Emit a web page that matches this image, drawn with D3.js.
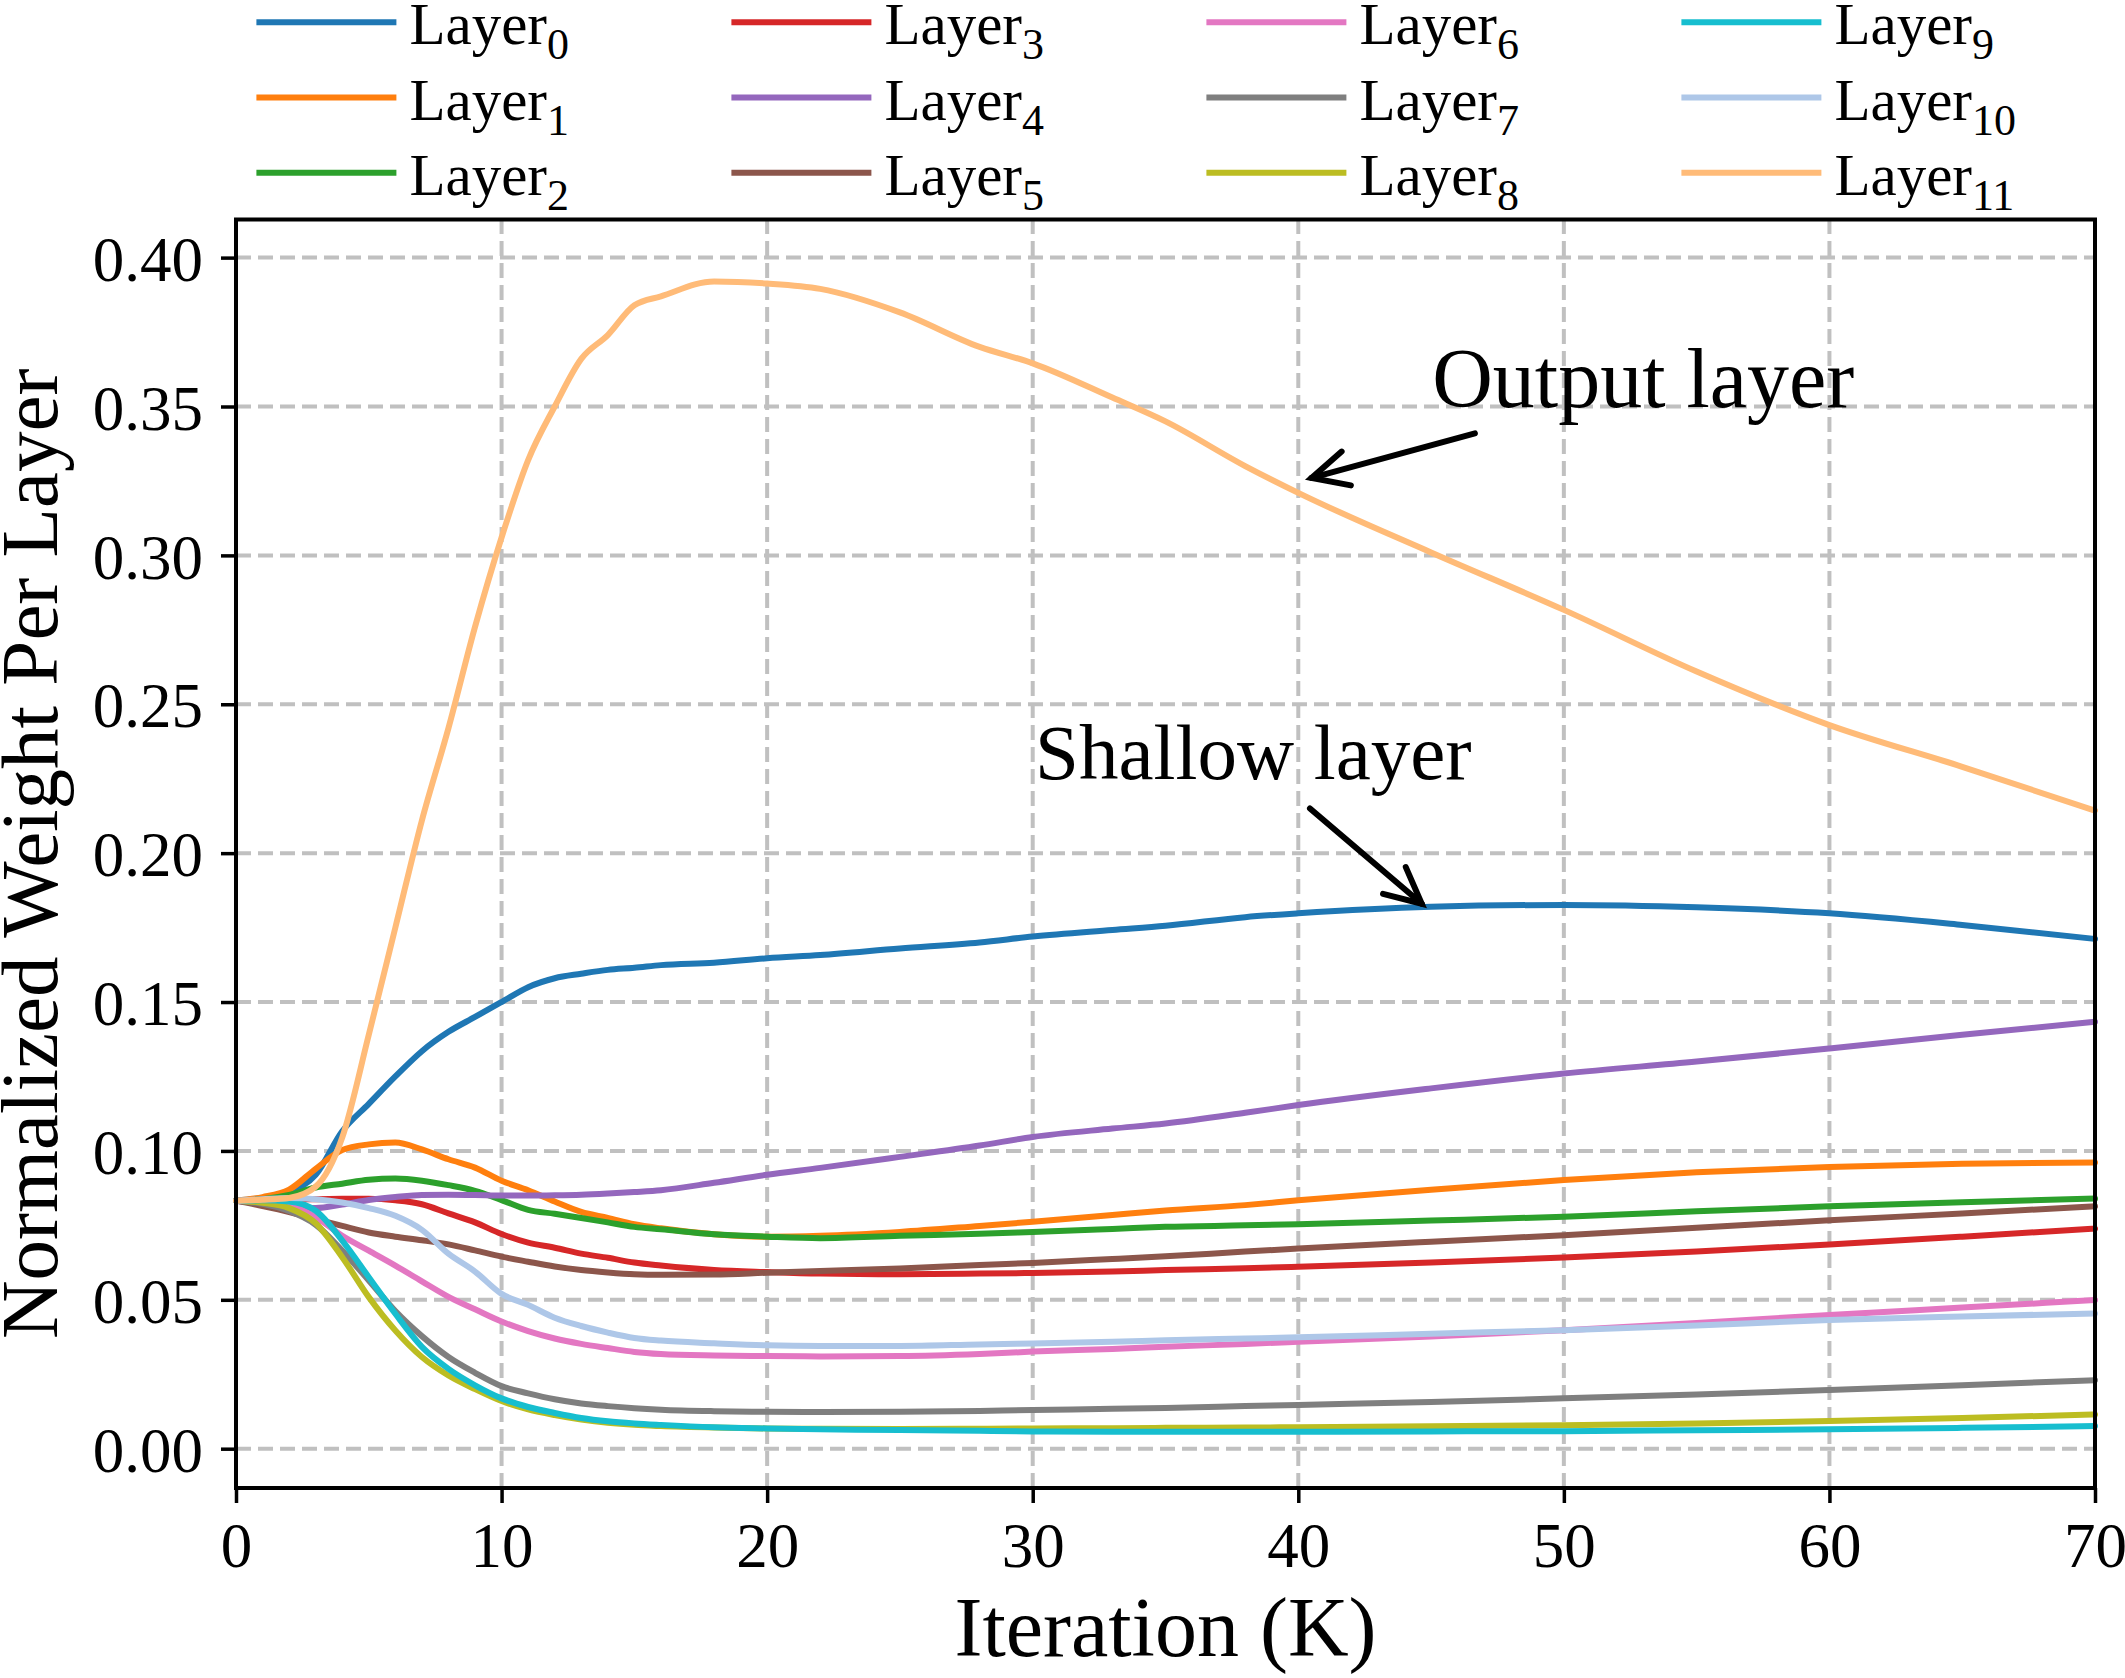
<!DOCTYPE html>
<meta charset="utf-8">
<body style="margin:0;background:#fff">
<div id="chart"></div>
<script src="https://d3js.org/d3.v7.min.js"></script>
<script>

var iterations = [0,1,2,3,4,5,6,7,8,9,10,11,12,13,14,15,16,18,20,22,25,28,30,33,35,38,40,45,50,55,60,65,70];

var layer0  = [0.0833,0.0842,0.0862,0.0920,0.1066,0.1158,0.1250,0.1335,0.1400,0.1450,0.1500,0.1550,0.1580,0.1595,0.1608,0.1615,0.1624,0.1632,0.1647,0.1658,0.1680,0.1700,0.1720,0.1742,0.1756,0.1785,0.1798,0.1820,0.1826,0.1818,0.1798,0.1759,0.1712];
var layer1  = [0.0833,0.0845,0.0870,0.0940,0.1003,0.1022,0.1028,0.1005,0.0972,0.0944,0.0900,0.0868,0.0830,0.0795,0.0775,0.0754,0.0740,0.0720,0.0712,0.0715,0.0728,0.0748,0.0762,0.0785,0.0800,0.0818,0.0834,0.0870,0.0902,0.0928,0.0946,0.0957,0.0961];
var layer2  = [0.0833,0.0838,0.0852,0.0877,0.0890,0.0903,0.0907,0.0900,0.0885,0.0866,0.0835,0.0802,0.0789,0.0775,0.0760,0.0745,0.0737,0.0720,0.0712,0.0707,0.0715,0.0722,0.0728,0.0738,0.0745,0.0750,0.0754,0.0766,0.0779,0.0797,0.0814,0.0828,0.0840];
var layer3  = [0.0833,0.0836,0.0838,0.0838,0.0839,0.0839,0.0834,0.0821,0.0790,0.0760,0.0721,0.0692,0.0675,0.0655,0.0641,0.0625,0.0615,0.0600,0.0593,0.0588,0.0586,0.0588,0.0590,0.0595,0.0600,0.0606,0.0611,0.0625,0.0642,0.0662,0.0686,0.0712,0.0739];
var layer4  = [0.0833,0.0822,0.0812,0.0808,0.0820,0.0835,0.0845,0.0852,0.0853,0.0852,0.0850,0.0850,0.0851,0.0853,0.0857,0.0862,0.0868,0.0893,0.0920,0.0943,0.0980,0.1018,0.1047,0.1075,0.1092,0.1128,0.1154,0.1210,0.1260,0.1300,0.1344,0.1390,0.1434];
var layer5  = [0.0833,0.0815,0.0795,0.0771,0.0748,0.0726,0.0712,0.0700,0.0686,0.0666,0.0645,0.0628,0.0612,0.0600,0.0592,0.0586,0.0584,0.0585,0.0591,0.0597,0.0605,0.0617,0.0624,0.0637,0.0646,0.0662,0.0672,0.0695,0.0717,0.0742,0.0767,0.0790,0.0814];
var layer6  = [0.0833,0.0831,0.0818,0.0778,0.0715,0.0665,0.0615,0.0562,0.0510,0.0468,0.0427,0.0395,0.0370,0.0352,0.0338,0.0325,0.0318,0.0313,0.0311,0.0310,0.0311,0.0318,0.0326,0.0335,0.0342,0.0352,0.0359,0.0377,0.0398,0.0422,0.0449,0.0474,0.0499];
var layer7  = [0.0833,0.0822,0.0798,0.0752,0.0665,0.0565,0.0462,0.0378,0.0308,0.0255,0.0210,0.0186,0.0166,0.0152,0.0143,0.0136,0.0131,0.0126,0.0124,0.0123,0.0124,0.0127,0.0130,0.0134,0.0137,0.0143,0.0147,0.0157,0.0169,0.0182,0.0197,0.0213,0.0230];
var layer8  = [0.0833,0.0826,0.0808,0.0757,0.0643,0.0509,0.0397,0.0308,0.0246,0.0200,0.0160,0.0132,0.0113,0.0098,0.0087,0.0080,0.0076,0.0071,0.0068,0.0067,0.0066,0.0067,0.0068,0.0069,0.0070,0.0071,0.0072,0.0075,0.0079,0.0085,0.0093,0.0103,0.0115];
var layer9  = [0.0833,0.0834,0.0830,0.0799,0.0699,0.0576,0.0453,0.0342,0.0268,0.0213,0.0169,0.0140,0.0120,0.0103,0.0092,0.0085,0.0080,0.0072,0.0068,0.0065,0.0063,0.0060,0.0058,0.0057,0.0057,0.0057,0.0057,0.0058,0.0059,0.0062,0.0065,0.0070,0.0076];
var layer10 = [0.0833,0.0838,0.0842,0.0838,0.0827,0.0808,0.0782,0.0735,0.0655,0.0595,0.0520,0.0483,0.0440,0.0412,0.0390,0.0372,0.0363,0.0354,0.0347,0.0345,0.0345,0.0350,0.0353,0.0359,0.0364,0.0370,0.0374,0.0386,0.0398,0.0414,0.0432,0.0444,0.0454];
var layer11 = [0.0833,0.0836,0.0842,0.0880,0.1045,0.1390,0.1750,0.2110,0.2420,0.2760,0.3060,0.3320,0.3500,0.3660,0.3740,0.3840,0.3870,0.3920,0.3913,0.3895,0.3816,0.3700,0.3645,0.3530,0.3450,0.3300,0.3210,0.3010,0.2817,0.2610,0.2430,0.2290,0.2143];

var series = [layer0, layer1, layer2, layer3, layer4, layer5, layer6, layer7, layer8, layer9, layer10, layer11];
var colors = ["#1f77b4","#ff7f0e","#2ca02c","#d62728","#9467bd","#8c564b","#e377c2","#7f7f7f","#bcbd22","#17becf","#aec7e8","#ffbb78"];

var xTicks = [0,10,20,30,40,50,60,70];
var yTicks = [0,0.05,0.10,0.15,0.20,0.25,0.30,0.35,0.40];

// annotation: text spot, arrow tail -> arrow tip (data units)
var notes = [
    {text: "Output layer", tx: 45.04, ty: 0.3498, x0: 46.65, y0: 0.341, x1: 40.5, y1: 0.326, size: 84},
    {text: "Shallow layer", tx: 30.09, ty: 0.2249, x0: 40.44, y0: 0.215, x1: 44.65, y1: 0.183, size: 79}
];

var w = 2125, h = 1678;
var pLeft = 236, pRight = 2095, pTop = 219.5, pBottom = 1488;
var font = "'Liberation Serif', 'Times New Roman', serif";

var svg = d3.select("#chart")
    .append("svg")
    .attr("width", w)
    .attr("height", h)
    .style("display", "block");

svg.append("rect")
    .attr("width", w)
    .attr("height", h)
    .attr("fill", "#fff");

var x = d3.scaleLinear().domain([0, 70]).range([pLeft, pRight]);
var y = d3.scaleLinear().domain([-0.0132, 0.4128]).range([pBottom, pTop]);

// grid
var grid = svg.append("g")
    .attr("stroke", "#c0c0c0")
    .attr("stroke-width", 4)
    .attr("stroke-dasharray", "15,7");

grid.selectAll(".gx")
    .data(xTicks.slice(1, -1))
    .enter()
    .append("line")
    .attr("x1", function(d) {return x(d);})
    .attr("x2", function(d) {return x(d);})
    .attr("y1", pBottom)
    .attr("y2", pTop);

grid.selectAll(".gy")
    .data(yTicks)
    .enter()
    .append("line")
    .attr("x1", pLeft)
    .attr("x2", pRight)
    .attr("y1", function(d) {return y(d);})
    .attr("y2", function(d) {return y(d);});

// the layers
var line = d3.line()
    .x(function(d, i) {return x(iterations[i]);})
    .y(function(d) {return y(d);})
    .curve(d3.curveMonotoneX);

svg.append("g")
    .selectAll("path")
    .data(series)
    .enter()
    .append("path")
    .attr("d", line)
    .attr("fill", "none")
    .attr("stroke", function(d, i) {return colors[i];})
    .attr("stroke-width", 6)
    .attr("stroke-linejoin", "round")
    .attr("stroke-linecap", "round");

// axes
var xAxis = svg.append("g")
    .attr("transform", "translate(0," + pBottom + ")")
    .call(d3.axisBottom(x).tickValues(xTicks).tickSize(15).tickPadding(19).tickFormat(d3.format("d")));

var yAxis = svg.append("g")
    .attr("transform", "translate(" + pLeft + ",0)")
    .call(d3.axisLeft(y).tickValues(yTicks).tickSize(15).tickPadding(18).tickFormat(d3.format(".2f")));

[xAxis, yAxis].forEach(function(a) {
    a.select(".domain").remove();
    a.selectAll(".tick line").attr("stroke", "#000").attr("stroke-width", 3.5);
    a.selectAll(".tick text")
        .attr("fill", "#000")
        .style("font-family", font)
        .style("font-size", "63px");
});
yAxis.selectAll(".tick text").attr("dy", "0.36em");

svg.append("rect")
    .attr("x", pLeft)
    .attr("y", pTop)
    .attr("width", pRight - pLeft)
    .attr("height", pBottom - pTop)
    .attr("fill", "none")
    .attr("stroke", "#000")
    .attr("stroke-width", 4);

svg.append("text")
    .text("Iteration (K)")
    .attr("x", (pLeft + pRight) / 2)
    .attr("y", 1656)
    .attr("text-anchor", "middle")
    .style("font-family", font)
    .style("font-size", "84px");

svg.append("text")
    .text("Normalized Weight Per Layer")
    .attr("transform", "translate(57," + (pTop + pBottom) / 2 + ") rotate(-90)")
    .attr("text-anchor", "middle")
    .style("font-family", font)
    .style("font-size", "81px");

// legend, 4 columns x 3 rows
var legend = svg.append("g")
    .selectAll("g")
    .data(series)
    .enter()
    .append("g")
    .attr("transform", function(d, i) {
        return "translate(" + (256.4 + Math.floor(i / 3) * 475) + "," + (22.3 + (i % 3) * 75.2) + ")";
    });

legend.append("line")
    .attr("x1", 0)
    .attr("x2", 140)
    .attr("stroke", function(d, i) {return colors[i];})
    .attr("stroke-width", 6);

var lt = legend.append("text")
    .attr("x", 153)
    .attr("y", 22)
    .style("font-family", font)
    .style("font-size", "59px")
    .text("Layer");
lt.append("tspan")
    .attr("dy", 15)
    .style("font-size", "44px")
    .text(function(d, i) {return i;});

// annotations
notes.forEach(function(n) {
    svg.append("text")
        .text(n.text)
        .attr("x", x(n.tx))
        .attr("y", y(n.ty))
        .style("font-family", font)
        .style("font-size", n.size + "px");

    var tx = x(n.x1), ty = y(n.y1);
    var ang = Math.atan2(y(n.y0) - ty, x(n.x0) - tx);
    var a1 = ang + 26 * Math.PI / 180, a2 = ang - 26 * Math.PI / 180;
    svg.append("path")
        .attr("d", "M" + x(n.x0) + "," + y(n.y0) + "L" + tx + "," + ty)
        .attr("stroke", "#000")
        .attr("stroke-width", 6)
        .attr("stroke-linecap", "round");
    svg.append("path")
        .attr("d", "M" + (tx + 40 * Math.cos(a1)) + "," + (ty + 40 * Math.sin(a1)) +
            "L" + tx + "," + ty +
            "L" + (tx + 40 * Math.cos(a2)) + "," + (ty + 40 * Math.sin(a2)))
        .attr("fill", "none")
        .attr("stroke", "#000")
        .attr("stroke-width", 6)
        .attr("stroke-linecap", "round")
        .attr("stroke-linejoin", "miter");
});
</script>
